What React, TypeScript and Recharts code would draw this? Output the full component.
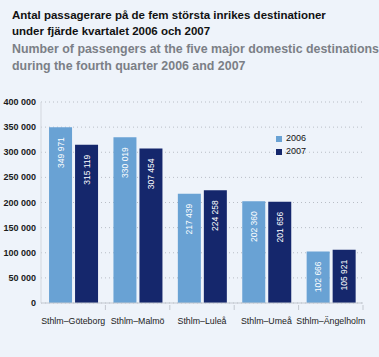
import { BarChart, Bar, XAxis, YAxis, CartesianGrid, Legend, LabelList } from "recharts";

const routes = ["Sthlm–Göteborg", "Sthlm–Malmö", "Sthlm–Luleå", "Sthlm–Umeå", "Sthlm–Ängelholm"];
const pax2006 = [349971, 330019, 217439, 202360, 102666];
const pax2007 = [315119, 307454, 224258, 201656, 105921];
const yTicks = [0, 50000, 100000, 150000, 200000, 250000, 300000, 350000, 400000];

const data = routes.map((route, i) => ({ route, y2006: pax2006[i], y2007: pax2007[i] }));

const LIGHT = "#69a2d4";
const DARK = "#15276c";
const FONT = '"Liberation Sans", Arial, Helvetica, sans-serif';

const fmt = (v: number) => String(v).replace(/\B(?=(\d{3})+(?!\d))/g, " ");

// rotated white value labels sitting at the top inside each bar
const BarValue = (props: any) => {
    const { x, y, width, value } = props;
    const cx = x + width / 2 + 3;
    const ty = y + 10;
    return (
        <text
            x={cx}
            y={ty}
            transform={`rotate(-90 ${cx} ${ty})`}
            textAnchor="end"
            fill="#fff"
            fontSize={8.5}
            fontFamily={FONT}
        >
            {fmt(value)}
        </text>
    );
};

const PLOT_W = 379 - 41 - 16;

const RouteTick = (props: any) => {
    const { x, y, payload } = props;
    const half = PLOT_W / routes.length / 2;
    return (
        <g>
            <line x1={x + half} x2={x + half} y1={y - 1} y2={y - 6} stroke="#c3c8d0" />
            <text x={x} y={y + 13} textAnchor="middle" fontSize={8.8} fill="#222" fontFamily={FONT}>
                {payload.value}
            </text>
        </g>
    );
};

// y ticks: right edge of text sits ~5px left of the axis line
const ValueTick = (props: any) => {
    const { x, y, payload } = props;
    return (
        <text x={x + 1} y={y + 3} textAnchor="end" fontSize={9} fill="#1a1a1a" fontWeight={700} fontFamily={FONT}>
            {fmt(payload.value)}
        </text>
    );
};

const LegendBox = () => (
    <div style={{ fontFamily: FONT, fontSize: 9, color: "#111", lineHeight: "13px" }}>
        {[["2006", LIGHT], ["2007", DARK]].map(([label, color]) => (
            <div key={label} style={{ display: "flex", alignItems: "center" }}>
                <span style={{ width: 6, height: 6, background: color, marginRight: 4, display: "inline-block" }} />
                {label}
            </div>
        ))}
    </div>
);

export default function App() {
    return (
        <div
            style={{
                position: "fixed",
                left: 0,
                top: 0,
                width: 379,
                height: 357,
                background: "#eef3fa",
                fontFamily: FONT,
                overflow: "hidden",
            }}
        >
            <div style={{ position: "absolute", left: 12, top: 7, fontSize: 11.5, fontWeight: 700, color: "#111", lineHeight: "16px" }}>
                Antal passagerare på de fem största inrikes destinationer
                <br />
                under fjärde kvartalet 2006 och 2007
            </div>
            <div style={{ position: "absolute", left: 12, top: 41, fontSize: 12.4, fontWeight: 700, color: "#7b7f86", lineHeight: "16.5px" }}>
                Number of passengers at the five major domestic destinations
                <br />
                during the fourth quarter 2006 and 2007
            </div>
            <div style={{ position: "absolute", left: 0, top: 0 }}>
                <BarChart
                    width={379}
                    height={357}
                    data={data}
                    margin={{ top: 102, right: 16, bottom: 0, left: 0 }}
                    barCategoryGap="12.5%"
                    barGap={3}
                >
                    <CartesianGrid vertical={false} stroke="#b9bec6" strokeDasharray="1 3" />
                    <XAxis
                        dataKey="route"
                        height={28}
                        axisLine={{ stroke: "#c3c8d0" }}
                        tickLine={false}
                        tick={<RouteTick />}
                        interval={0}
                    />
                    <YAxis
                        width={41}
                        domain={[0, 400000]}
                        ticks={yTicks}
                        axisLine={{ stroke: "#d3d7de" }}
                        tickLine={false}
                        tick={<ValueTick />}
                        tickMargin={0}
                    />
                    <Legend
                        content={<LegendBox />}
                        wrapperStyle={{ position: "absolute", left: 276, top: 132, width: 60 }}
                    />
                    <Bar dataKey="y2006" name="2006" fill={LIGHT} isAnimationActive={false}>
                        <LabelList dataKey="y2006" content={<BarValue />} />
                    </Bar>
                    <Bar dataKey="y2007" name="2007" fill={DARK} isAnimationActive={false}>
                        <LabelList dataKey="y2007" content={<BarValue />} />
                    </Bar>
                </BarChart>
            </div>
        </div>
    );
}
